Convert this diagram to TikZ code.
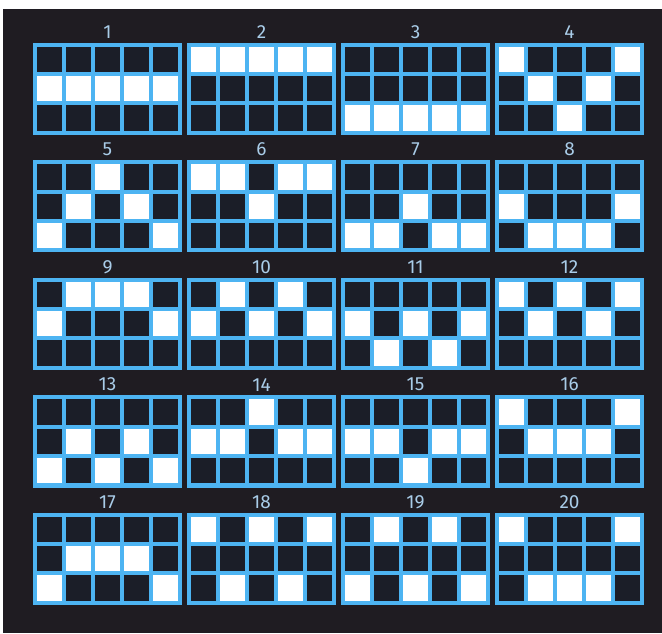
\documentclass[tikz,border=0pt]{standalone}
\usepackage{fontspec}
\setmainfont{Fira Sans}
\usetikzlibrary{positioning}
\definecolor{bgdark}{HTML}{1F1C22}
\definecolor{lineblue}{HTML}{4DB4F2}
\definecolor{celldark}{HTML}{1B1E28}
\definecolor{numblue}{HTML}{A9CCE8}
\begin{document}
\begin{tikzpicture}[x=1pt, y=1pt,
    panel/.style={fill=lineblue, draw=none, inner sep=0pt, minimum width=149pt, minimum height=92pt},
    lbl/.style={text=numblue, inner sep=0pt, font=\fontsize{19}{19}\selectfont},
    cellwhite/.style={fill=white}]
        \useasboundingbox (0,0) rectangle (662,633);
        \fill[white] (0,0) rectangle (662,633);
        \fill[bgdark] (3,0) rectangle (662,624);
        % one entry per line: number / white row of columns 1..5 (0 = top)
        \foreach \n/\pa/\pb/\pc/\pd/\pe in {1/1/1/1/1/1, 2/0/0/0/0/0, 3/2/2/2/2/2, 4/0/1/2/1/0,
                5/2/1/0/1/2, 6/0/0/1/0/0, 7/2/2/1/2/2, 8/1/2/2/2/1,
                9/1/0/0/0/1, 10/1/0/1/0/1, 11/1/2/1/2/1, 12/0/1/0/1/0,
                13/2/1/2/1/2, 14/1/1/0/1/1, 15/1/1/2/1/1, 16/0/1/1/1/0,
                17/2/1/1/1/2, 18/0/2/0/2/0, 19/2/0/2/0/2, 20/0/2/2/2/0}{
            \pgfmathtruncatemacro{\col}{mod(\n-1,4)}
            \pgfmathtruncatemacro{\row}{div(\n-1,4)}
            \node[panel] (p\n) at ({107.5+\col*154}, {544-\row*117.5}) {};
            \node[lbl, above=4pt of p\n] (n\n) {\n};
            \foreach \c in {0,...,4}
                \foreach \r in {0,1,2}
                    \fill[celldark] ([shift={({4+\c*29},{-4-\r*29.33})}]p\n.north west) rectangle +(25,-25.33);
            \foreach \c/\w in {0/\pa,1/\pb,2/\pc,3/\pd,4/\pe}
                \fill[cellwhite] ([shift={({4+\c*29},{-4-\w*29.33})}]p\n.north west) rectangle +(25,-25.33);
        }
\end{tikzpicture}
\end{document}
